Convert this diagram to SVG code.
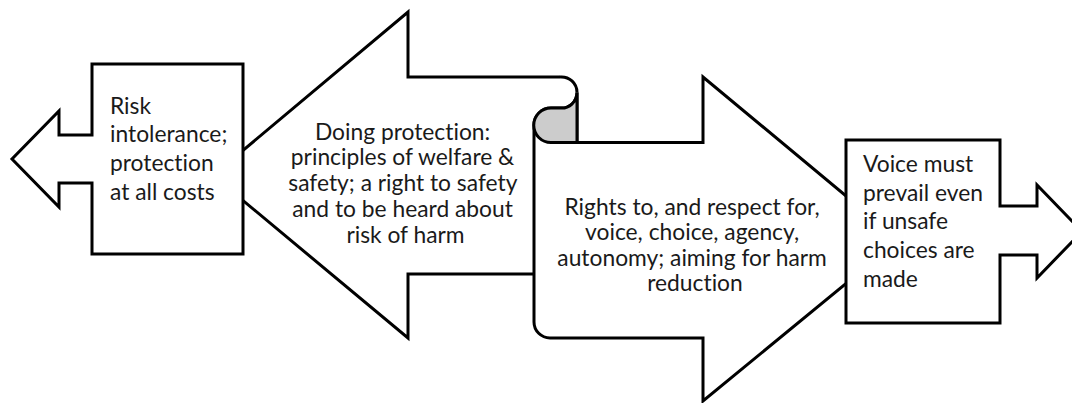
<svg xmlns="http://www.w3.org/2000/svg" width="1072" height="403" viewBox="0 0 1072 403">
  <style>
    .shape { fill: #ffffff; stroke: #000000; stroke-width: 3; stroke-linejoin: miter; }
    .fillonly { fill: #ffffff; stroke: none; }
    .line { fill: none; stroke: #000000; stroke-width: 3; stroke-linejoin: miter; }
    .curl { fill: #cccccc; stroke: #000000; stroke-width: 3; }
    .label { font-family: Lato, "Liberation Sans", sans-serif; font-size: 22.8px; fill: #1a1a1a; font-variant-ligatures: none; }
    .mid { text-anchor: middle; }
  </style>
  <rect width="1072" height="403" fill="#ffffff"/>

  <!-- Large left-pointing arrow: doing protection -->
  <g id="doing-protection">
    <path class="fillonly" d="M213,175.5 L408,12 L408,77 L560,77 L560,274 L408,274 L408,338 Z"/>
    <path class="line" d="M560,77 L408,77 L408,12 L213,175.5 L408,338 L408,274 L536,274"/>
    <text class="label mid">
      <tspan x="405.5" y="139.5">Doing protection:</tspan>
      <tspan x="405.5" y="165.3">principles of welfare &amp;</tspan>
      <tspan x="405.5" y="191.1">safety; a right to safety</tspan>
      <tspan x="405.5" y="216.9">and to be heard about</tspan>
      <tspan x="405.5" y="242.7">risk of harm</tspan>
    </text>
  </g>

  <!-- Right-pointing scroll arrow: rights, voice and choice -->
  <g id="rights-voice-choice">
    <path class="shape" d="M577,142.5 L703,142.5 L703,77 L899,240 L703,401 L703,338 L550,338 A16,16 0 0 1 534,322 L534,125 A17,17 0 0 1 551,108 L560,108 A15.5,15.5 0 0 0 577,92.5 Z"/>
    <path class="line" d="M560,77 A15.5,15.5 0 0 1 577,92.5"/>
    <path class="curl" d="M577,92.5 A15.5,15.5 0 0 1 560,108 L551,108 A17.25,17.25 0 0 0 551,142.5 L577,142.5 Z"/>
    <text class="label mid">
      <tspan x="695" y="214.5">Rights to, and respect for,</tspan>
      <tspan x="695" y="240">voice, choice, agency,</tspan>
      <tspan x="695" y="265.5">autonomy; aiming for harm</tspan>
      <tspan x="695" y="291">reduction</tspan>
    </text>
  </g>

  <!-- Left arrow callout: risk intolerance -->
  <g id="risk-intolerance">
    <path class="shape" d="M92,64 L243,64 L243,254 L92,254 L92,183 L59,183 L59,207 L12,159 L59,111 L59,135 L92,135 Z"/>
    <text class="label">
      <tspan x="110" y="113.5">Risk</tspan>
      <tspan x="110" y="142.3">intolerance;</tspan>
      <tspan x="110" y="171.1">protection</tspan>
      <tspan x="110" y="199.9">at all costs</tspan>
    </text>
  </g>

  <!-- Right arrow callout: voice must prevail -->
  <g id="voice-must-prevail">
    <path class="shape" d="M846,140 L1000,140 L1000,206 L1037,206 L1037,185 L1082,231.5 L1037,278 L1037,255 L1000,255 L1000,323 L846,323 Z"/>
    <text class="label">
      <tspan x="863" y="171.7">Voice must</tspan>
      <tspan x="863" y="200.5">prevail even</tspan>
      <tspan x="863" y="229.3">if unsafe</tspan>
      <tspan x="863" y="258.1">choices are</tspan>
      <tspan x="863" y="286.9">made</tspan>
    </text>
  </g>

  <!-- No connectors: the arrows themselves carry the flow -->
  <g id="connectors"/>
</svg>
